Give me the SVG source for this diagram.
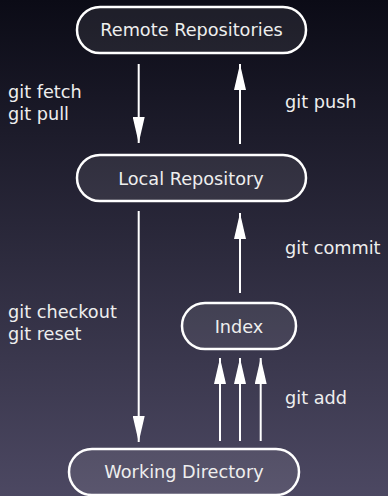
<svg xmlns="http://www.w3.org/2000/svg" width="388" height="496" viewBox="0 0 388 496">
<defs>
<linearGradient id="bg" x1="0" y1="0" x2="0" y2="1">
<stop offset="0" stop-color="#0b0b16"/>
<stop offset="1" stop-color="#4c4862"/>
</linearGradient>
<marker id="ah" viewBox="0 0 26 12" refX="26" refY="6" markerWidth="26" markerHeight="12" markerUnits="userSpaceOnUse" orient="auto">
<path d="M0,0 L26,6 L0,12 Z" fill="#ffffff"/>
</marker>
<style>
.box{fill:#ffffff;fill-opacity:0.08;stroke:#ffffff;stroke-width:2.5}
.t{font-family:"DejaVu Sans",sans-serif;font-size:17.7px;fill:#eeeeee}
.c{text-anchor:middle}
.e{stroke:#ffffff;stroke-width:2;fill:none;marker-end:url(#ah)}
</style>
</defs>
<rect x="0" y="0" width="388" height="496" fill="url(#bg)"/>
<g id="remote"><rect class="box" x="77" y="7" width="229" height="46" rx="23"/><text class="t c" x="191.5" y="36">Remote Repositories</text></g>
<g id="local"><rect class="box" x="77" y="155" width="229" height="46" rx="23"/><text class="t c" x="191" y="185">Local Repository</text></g>
<g id="index"><rect class="box" x="182" y="303" width="114" height="46" rx="23"/><text class="t c" x="239" y="333">Index</text></g>
<g id="working"><rect class="box" x="69" y="449" width="230" height="46" rx="23"/><text class="t c" x="184" y="478">Working Directory</text></g>
<g id="connectors">
<line class="e" x1="138.7" y1="64" x2="138.7" y2="143"/>
<line class="e" x1="240" y1="144" x2="240" y2="64"/>
<line class="e" x1="240" y1="293" x2="240" y2="213"/>
<line class="e" x1="138.7" y1="211" x2="138.7" y2="442"/>
<line class="e" x1="220" y1="441" x2="220" y2="358"/>
<line class="e" x1="240" y1="441" x2="240" y2="358"/>
<line class="e" x1="260.7" y1="441" x2="260.7" y2="358"/>
<text class="t" x="8" y="98">git fetch</text>
<text class="t" x="8" y="120">git pull</text>
<text class="t" x="285" y="108">git push</text>
<text class="t" x="285" y="254">git commit</text>
<text class="t" x="8" y="318">git checkout</text>
<text class="t" x="8" y="340">git reset</text>
<text class="t" x="285" y="404">git add</text>
</g>
</svg>
